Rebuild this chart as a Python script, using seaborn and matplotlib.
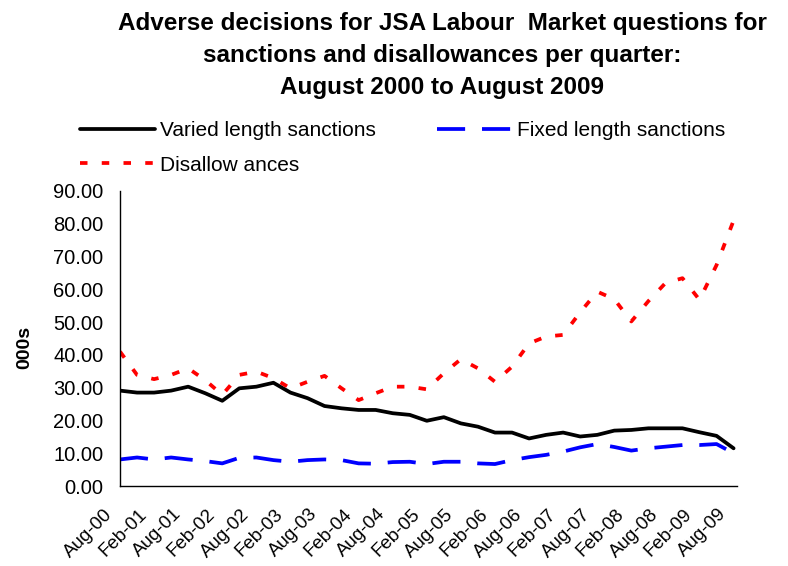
import numpy as np
import pandas as pd
import seaborn as sns
from matplotlib import pyplot as plt
from matplotlib.transforms import ScaledTranslation

quarters = [
    "Aug-00", "Nov-00", "Feb-01", "May-01", "Aug-01", "Nov-01", "Feb-02", "May-02",
    "Aug-02", "Nov-02", "Feb-03", "May-03", "Aug-03", "Nov-03", "Feb-04", "May-04",
    "Aug-04", "Nov-04", "Feb-05", "May-05", "Aug-05", "Nov-05", "Feb-06", "May-06",
    "Aug-06", "Nov-06", "Feb-07", "May-07", "Aug-07", "Nov-07", "Feb-08", "May-08",
    "Aug-08", "Nov-08", "Feb-09", "May-09", "Aug-09",
]
varied = [29.1, 28.5, 28.5, 29.1, 30.3, 28.3, 26.0, 29.8, 30.3, 31.5, 28.5, 26.8,
          24.4, 23.7, 23.2, 23.2, 22.2, 21.7, 19.9, 21.0, 19.1, 18.1, 16.3, 16.3,
          14.5, 15.6, 16.3, 15.1, 15.6, 16.9, 17.1, 17.6, 17.6, 17.6, 16.4, 15.3, 11.5]
fixed = [8.1, 8.7, 8.1, 8.7, 8.1, 7.6, 6.9, 8.6, 8.7, 7.9, 7.4, 7.9,
         8.1, 7.9, 6.9, 6.8, 7.3, 7.4, 6.7, 7.4, 7.4, 6.9, 6.7, 7.9,
         8.8, 9.5, 10.5, 11.8, 12.8, 11.9, 10.8, 11.5, 12.0, 12.5, 12.5, 12.8, 10.0]
disallow = [41.0, 33.9, 32.6, 33.9, 35.9, 32.3, 27.8, 33.9, 34.9, 32.9, 29.8, 31.8,
            33.6, 29.8, 26.2, 28.3, 30.3, 30.3, 29.5, 34.4, 38.7, 35.9, 31.8, 36.4,
            43.5, 45.6, 46.1, 53.0, 59.3, 57.0, 50.2, 56.4, 61.9, 63.4, 56.8, 67.4, 81.0]
yticks = [0, 10, 20, 30, 40, 50, 60, 70, 80, 90]

sns.set_style("white")
plt.rcParams["font.family"] = ["Liberation Sans", "DejaVu Sans"]
plt.rcParams["text.color"] = "black"
plt.rcParams["axes.labelcolor"] = "black"
plt.rcParams["xtick.color"] = "black"
plt.rcParams["ytick.color"] = "black"

df = pd.DataFrame({"pos": np.arange(len(quarters)), "quarter": quarters,
                   "varied": varied, "fixed": fixed, "disallow": disallow})

fig = plt.figure(figsize=(7.88, 5.66), dpi=100)
ax = fig.add_axes([120 / 788, 1 - 486 / 566, 617 / 788, 295 / 566])

sns.lineplot(data=df, x="pos", y="varied", ax=ax, color="black", linewidth=2.7,
             label="Varied length sanctions")
sns.lineplot(data=df, x="pos", y="fixed", ax=ax, color="#0000ff", linewidth=2.7,
             linestyle=(0, (7.5, 4.5)), label="Fixed length sanctions")
sns.lineplot(data=df, x="pos", y="disallow", ax=ax, color="#ff0000", linewidth=2.7,
             linestyle=(0, (2, 3.8)), label="Disallow ances")

ax.set_xlim(0, 36.2)
ax.set_ylim(0, 90)
ax.tick_params(axis="both", direction="out", length=4, width=1, color="black")
ax.tick_params(axis="y", pad=8)
ax.tick_params(axis="x", pad=8)
ax.set_yticks(yticks)
ax.set_yticklabels([f"{v:.2f}" for v in yticks], fontsize=14.5)
ax.set_xticks(df["pos"][::2])
ax.set_xticklabels(df["quarter"][::2], fontsize=13.5, rotation=45,
                   ha="right", va="center", rotation_mode="anchor")
# shift the rotated labels down-left, like the original sheet
offset = ScaledTranslation(-7 / 72, -6.5 / 72, fig.dpi_scale_trans)
for lbl in ax.get_xticklabels():
    lbl.set_transform(lbl.get_transform() + offset)

for side in ["top", "right"]:
    ax.spines[side].set_visible(False)
for side in ["left", "bottom"]:
    ax.spines[side].set_color("black")
    ax.spines[side].set_linewidth(1)

ax.set_xlabel("")
ax.set_ylabel("000s", fontsize=14, fontweight="bold")
ax.yaxis.set_label_coords(-0.14, 0.47)

handles, labels = ax.get_legend_handles_labels()
ax.get_legend().remove()
order = [0, 2, 1]
fig.legend([handles[i] for i in order], [labels[i] for i in order],
           loc="upper left", bbox_to_anchor=(80 / 788, 1 - 121 / 566), ncol=2,
           frameon=False, fontsize=15, handlelength=3.6, handletextpad=0.25,
           columnspacing=2.9, labelspacing=0.75, borderpad=0, borderaxespad=0)

fig.text(442 / 788, 1 - 12 / 566,
         "Adverse decisions for JSA Labour  Market questions for\n"
         "sanctions and disallowances per quarter:\n"
         "August 2000 to August 2009",
         ha="center", va="top", fontsize=17.5, fontweight="bold", linespacing=1.5)

fig.savefig("out.png", dpi=100, facecolor="white")
